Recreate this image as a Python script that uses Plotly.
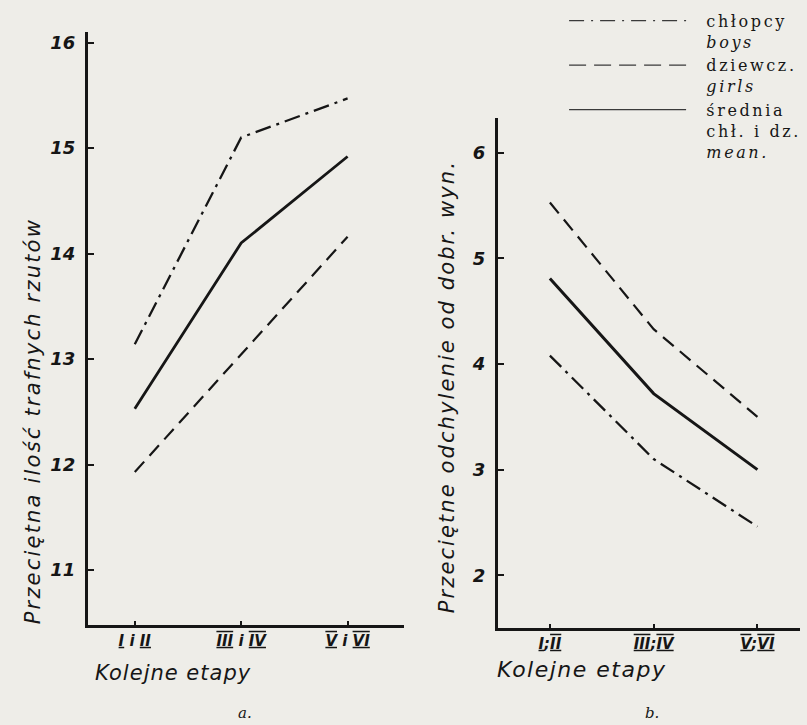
import plotly.graph_objects as go

# ---- data ----
stages = ["I i II", "III i IV", "V i VI"]
OU = "<span style='text-decoration:underline overline'>{}</span>"
stage_labels_a = [
    "<u>I</u> i <u>II</u>",
    OU.format("III") + " i " + OU.format("IV"),
    OU.format("V") + " i " + OU.format("VI"),
]
stage_labels_b = [
    "<u>I</u>;" + OU.format("II"),
    OU.format("III") + ";" + OU.format("IV"),
    OU.format("V") + ";" + OU.format("VI"),
]

# a. average number of accurate throws
hits_boys = [13.14, 15.1, 15.47]
hits_girls = [11.93, 13.05, 14.16]
hits_mean = [12.53, 14.1, 14.92]

# b. average deviation from the good result
dev_girls = [5.53, 4.33, 3.5]
dev_mean = [4.81, 3.72, 3.0]
dev_boys = [4.08, 3.1, 2.46]

y_ticks_a = [11, 12, 13, 14, 15, 16]
y_ticks_b = [2, 3, 4, 5, 6]

LS = "&nbsp;&nbsp;&nbsp;<span style='letter-spacing:2.6px'>{}</span>"
legend_names = [
    LS.format("chłopcy") + "<br><i>" + LS.format("boys") + "</i>",
    LS.format("dziewcz.") + "<br><i>" + LS.format("girls") + "</i>",
    LS.format("średnia") + "<br>" + LS.format("chł. i dz.") + "<br><i>" + LS.format("mean.") + "</i>",
]

INK = "#161616"
BG = "#eeede8"
DASHDOT = "16px,6px,3px,6px"
DASH = "14px,8px"
HAND = "DejaVu Sans"

fig = go.Figure()

# subplot a
fig.add_trace(go.Scatter(x=stages, y=hits_boys, mode="lines", xaxis="x", yaxis="y",
                         line=dict(color=INK, width=2.3, dash=DASHDOT), showlegend=False))
fig.add_trace(go.Scatter(x=stages, y=hits_mean, mode="lines", xaxis="x", yaxis="y",
                         line=dict(color=INK, width=2.8), showlegend=False))
fig.add_trace(go.Scatter(x=stages, y=hits_girls, mode="lines", xaxis="x", yaxis="y",
                         line=dict(color=INK, width=2.2, dash=DASH), showlegend=False))
# subplot b
fig.add_trace(go.Scatter(x=stages, y=dev_girls, mode="lines", xaxis="x2", yaxis="y2",
                         line=dict(color=INK, width=2.2, dash=DASH), showlegend=False))
fig.add_trace(go.Scatter(x=stages, y=dev_mean, mode="lines", xaxis="x2", yaxis="y2",
                         line=dict(color=INK, width=3), showlegend=False))
fig.add_trace(go.Scatter(x=stages, y=dev_boys, mode="lines", xaxis="x2", yaxis="y2",
                         line=dict(color=INK, width=2.3, dash=DASHDOT), showlegend=False))

# legend entries
leg_dash = ["15px,7px,2px,7px", "17px,8px", "solid"]
for name, d in zip(legend_names, leg_dash):
    fig.add_trace(go.Scatter(x=[None], y=[None], mode="lines", xaxis="x2", yaxis="y2",
                             name=name, line=dict(color="#3a3a3a", width=1.2, dash=d)))

tick_font = dict(family=HAND, size=18, color=INK, style="italic", weight="bold")
xtick_font = dict(family=HAND, size=15, color=INK, style="italic", weight="bold")

common_axis = dict(showline=True, linecolor=INK, showgrid=False, zeroline=False,
                   ticks="inside", tickcolor=INK)

fig.update_layout(
    width=807, height=725,
    margin=dict(l=0, r=0, t=0, b=0),
    paper_bgcolor=BG, plot_bgcolor=BG,
    showlegend=True,
    legend=dict(x=0.699, y=0.995, xanchor="left", yanchor="top",
                bgcolor="rgba(0,0,0,0)", itemwidth=117, valign="top",
                font=dict(family="DejaVu Serif", size=16, color=INK),
                tracegroupgap=0),
    xaxis=dict(domain=[0.109, 0.5006], anchor="y", range=[-0.44, 2.53],
               tickvals=stages, ticktext=stage_labels_a, tickfont=xtick_font,
               linewidth=2.5, ticklen=4, tickwidth=1.5, **common_axis),
    yaxis=dict(domain=[0.1379, 0.9559], anchor="x", range=[10.48, 16.10],
               tickvals=y_ticks_a, tickfont=tick_font, linewidth=3,
               ticklen=6, tickwidth=1.5, ticklabelstandoff=6, **common_axis),
    xaxis2=dict(domain=[0.6171, 0.9913], anchor="y2", range=[-0.5, 2.41],
                tickvals=stages, ticktext=stage_labels_b, tickfont=xtick_font,
                linewidth=2.5, ticklen=4, tickwidth=1.5, **common_axis),
    yaxis2=dict(domain=[0.1338, 0.8372], anchor="x2", range=[1.50, 6.33],
                tickvals=y_ticks_b, tickfont=tick_font, linewidth=3,
                ticklen=6, tickwidth=1.5, ticklabelstandoff=6, **common_axis),
)

title_font = dict(family=HAND, size=21, color=INK, style="italic")
ann = [
    dict(text="<span style='letter-spacing:2.2px'>Przeciętna ilość trafnych rzutów</span>",
         x=0.041, y=0.419, textangle=-90),
    dict(text="<span style='letter-spacing:2.1px'>Przeciętne odchylenie od dobr. wyn.</span>",
         x=0.554, y=0.466, textangle=-90),
    dict(text="<span style='letter-spacing:1px'>Kolejne etapy</span>", x=0.214, y=0.0717),
    dict(text="<span style='letter-spacing:1.5px'>Kolejne etapy</span>", x=0.72, y=0.0759,
         font=dict(family=HAND, size=22, color=INK, style="italic")),
]
for a in ann:
    a.setdefault("font", title_font)
    fig.add_annotation(xref="paper", yref="paper", showarrow=False,
                       xanchor="center", yanchor="middle", **a)
for t, xx in [("a.", 0.3036), ("b.", 0.808)]:
    fig.add_annotation(text=t, xref="paper", yref="paper", x=xx, y=0.017,
                       showarrow=False, xanchor="center", yanchor="middle",
                       font=dict(family="DejaVu Serif", size=15, color=INK, style="italic"))

fig.write_html("out.html", config={"displayModeBar": False},
               post_script="document.body.style.margin='0';document.body.style.background='" + BG + "';")
